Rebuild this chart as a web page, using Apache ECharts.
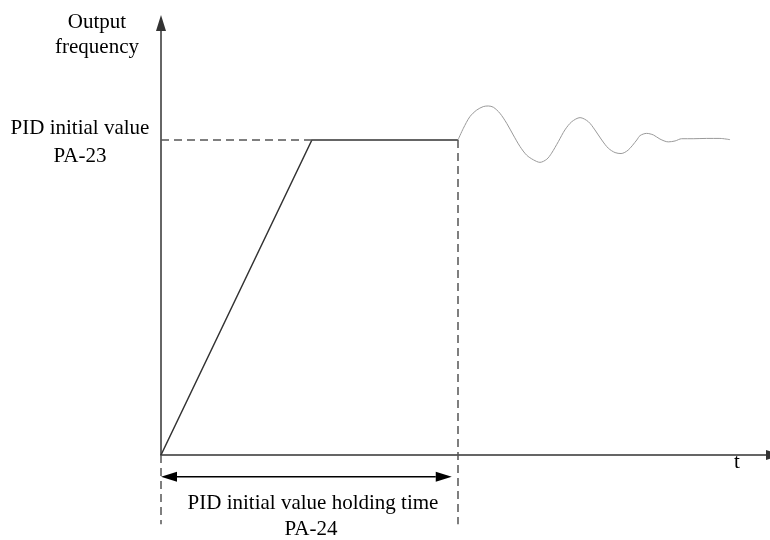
<!DOCTYPE html>
<html>
<head>
<meta charset="utf-8">
<title>PID initial value</title>
<script src="https://cdn.jsdelivr.net/npm/echarts@6/dist/echarts.min.js"></script>
<style>
  html, body { margin: 0; padding: 0; background: #fff; overflow: hidden; }
  /* a bit wider than the window so the t axis arrow runs off the right edge */
  #main { width: 790px; height: 540px; }
</style>
</head>
<body>
<div id="main"></div>
<script>
// time in arbitrary units, holding time PA-24 = 10
// output frequency in % of PID initial value (PA-23 = 100)
const holdTime = 10
const pidInit = 100

// ramp up, then hold at PID initial value
const rampT = [0, 5.08, holdTime]
const rampF = [0, pidInit, pidInit]

// PID regulation after the holding time
const oscT = [10, 10.18, 10.40, 10.63, 10.85, 11.02, 11.19, 11.41, 11.64, 11.86, 12.09, 12.31, 12.54, 12.76, 12.99,
  13.15, 13.38, 13.60, 13.83, 14.11, 14.39, 14.61, 14.84, 15.06, 15.29, 15.49, 15.73, 16.02, 16.13, 16.35,
  16.58, 16.80, 17.08, 17.31, 17.53, 17.92, 18.37, 18.82, 19.16]
const oscF = [100, 103.7, 107.4, 109.5, 110.6, 110.8, 110.4, 108.5, 105.3, 101.6, 97.9, 95.2, 93.7, 92.9, 93.9,
  95.8, 99.5, 103.2, 105.8, 107.1, 105.8, 103.2, 100.0, 97.4, 96.0, 95.7, 96.8, 100.0, 101.4, 102.1,
  101.6, 100.3, 99.4, 99.7, 100.4, 100.4, 100.5, 100.5, 100.1]

const guideBottom = -22   // dashed guides run below the t axis
const arrowLevel = -6.9   // level of the holding time arrow
const arrowEnd = 9.79     // right tip of the holding time arrow

const font = 'Liberation Serif, Times New Roman, serif'

function zip(a, b) {
  return a.map((v, i) => [v, b[i]])
}

const dashStyle = { color: '#555', width: 1.5, type: [8, 5] }

function label(text, x, y) {
  return {
    type: 'text', x: x, y: y,
    style: { text: text, font: '21px ' + font, fill: '#000', align: 'center', verticalAlign: 'middle' }
  }
}

// double headed arrow for the holding time
function renderArrow(params, api) {
  const a = api.coord([api.value(0), api.value(2)])
  const b = api.coord([api.value(1), api.value(2)])
  const len = 16, half = 5
  return {
    type: 'group',
    children: [
      {
        type: 'line',
        shape: { x1: a[0] + len, y1: a[1], x2: b[0] - len, y2: b[1] },
        style: { stroke: '#000', lineWidth: 1.5 }
      },
      {
        type: 'polygon',
        shape: { points: [[a[0], a[1]], [a[0] + len, a[1] - half], [a[0] + len, a[1] + half]] },
        style: { fill: '#000' }
      },
      {
        type: 'polygon',
        shape: { points: [[b[0], b[1]], [b[0] - len, b[1] - half], [b[0] - len, b[1] + half]] },
        style: { fill: '#000' }
      }
    ]
  }
}

const axisLine = {
  lineStyle: { color: '#333', width: 1.5 },
  symbol: ['none', 'triangle'],
  symbolSize: [10, 16]
}

const option = {
  animation: false,
  grid: { left: 161, width: 613, top: 23, height: 432 },
  xAxis: {
    type: 'value',
    min: 0,
    max: 20.64,
    axisLine: axisLine,
    axisTick: { show: false },
    axisLabel: { show: false },
    splitLine: { show: false }
  },
  yAxis: {
    type: 'value',
    min: 0,
    max: 137.14,
    axisLine: axisLine,
    axisTick: { show: false },
    axisLabel: { show: false },
    splitLine: { show: false }
  },
  series: [
    {
      name: 'ramp',
      type: 'line',
      data: zip(rampT, rampF),
      symbol: 'none',
      lineStyle: { color: '#333', width: 1.5 }
    },
    {
      name: 'level guide',
      type: 'line',
      data: [[0, pidInit], [rampT[1], pidInit]],
      symbol: 'none',
      lineStyle: dashStyle
    },
    {
      name: 'hold guide',
      type: 'line',
      clip: false,
      data: [[holdTime, pidInit], [holdTime, guideBottom]],
      symbol: 'none',
      lineStyle: dashStyle
    },
    {
      name: 'start guide',
      type: 'line',
      clip: false,
      data: [[0, 0], [0, guideBottom]],
      symbol: 'none',
      lineStyle: dashStyle
    },
    {
      name: 'holding time',
      type: 'custom',
      clip: false,
      silent: true,
      renderItem: renderArrow,
      data: [[0, arrowEnd, arrowLevel]]
    },
    {
      name: 'PID',
      type: 'line',
      data: zip(oscT, oscF),
      smooth: 0.3,
      symbol: 'none',
      lineStyle: { color: '#999', width: 1 }
    }
  ],
  graphic: [
    label('Output', 97, 22),
    label('frequency', 97, 47),
    label('PID initial value', 80, 128),
    label('PA-23', 80, 156),
    label('PID initial value holding time', 313, 503),
    label('PA-24', 311, 529),
    label('t', 737, 462)
  ]
}

const chart = echarts.init(document.getElementById('main'))
chart.setOption(option)
</script>
</body>
</html>
